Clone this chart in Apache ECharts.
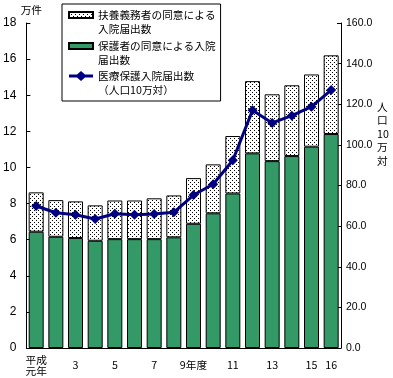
<!DOCTYPE html>
<html><head><meta charset="utf-8">
<script src="https://cdn.jsdelivr.net/npm/echarts@6/dist/echarts.min.js"></script>
<style>html,body{margin:0;padding:0;background:#fff}#c{width:393px;height:378px}</style>
</head><body><div id="c"></div>
<script>
const categories = ['平成\n元年','2','3','4','5','6','7','8','9年度','10','11','12','13','14','15','16'];
const shownLabels = [0,2,4,6,8,10,12,14,15];
const hogoshaValues = [6.44,6.16,6.09,5.94,6.03,6.03,6.03,6.13,6.88,7.46,8.56,10.78,10.35,10.63,11.15,11.85];
const totalValues = [8.62,8.19,8.12,7.90,8.17,8.17,8.29,8.45,9.41,10.17,11.74,14.78,14.05,14.55,15.15,16.21];
const fuyouValues = totalValues.map((t,i)=>+(t-hogoshaValues[i]).toFixed(2));
const rateValues = [69.9,66.6,65.6,63.5,66.1,65.6,66.0,66.8,75.3,80.6,92.4,117.0,110.8,114.4,118.8,127.0];
const leftTicks = [0,2,4,6,8,10,12,14,16,18];
const rightTicks = [0,20,40,60,80,100,120,140,160];

const nameFuyou = '扶養義務者の同意による\n入院届出数';
const nameHogo = '保護者の同意による入院\n届出数';
const nameRate = '医療保護入院届出数\n（人口10万対）';

const pc = document.createElement('canvas');
pc.width = 4; pc.height = 4;
const px = pc.getContext('2d');
px.fillStyle = '#fff'; px.fillRect(0,0,4,4);
px.fillStyle = '#000'; px.fillRect(0,0,1,1); px.fillRect(2,2,1,1);
const dotted = {image: pc, repeat: 'repeat'};

const FONT = 'Noto Sans CJK JP';
const rectIcon = 'path://M0,0M24,28M0,4h24v6h-24z';
const lineIcon = 'path://M0,0M24,28M0,5.5L8,5.5L12,2L16,5.5L24,5.5L24,8.5L16,8.5L12,12L8,8.5L0,8.5z';

const chart = echarts.init(document.getElementById('c'), null, {renderer:'canvas'});
chart.setOption({
  animation: false,
  textStyle: {fontFamily: FONT, color: '#000'},
  grid: {left: 26, right: 52, top: 23, bottom: 30},
  legend: {
    orient: 'vertical', left: 62, top: 4,
    padding: [3, 5, 4, 6],
    borderColor: '#000', borderWidth: 1, backgroundColor: '#fff',
    itemWidth: 24, itemHeight: 28, itemGap: 1,
    symbolKeepAspect: false,
    textStyle: {fontFamily: FONT, fontSize: 10.7, lineHeight: 14, color: '#000'},
    data: [
      {name: nameFuyou, icon: rectIcon},
      {name: nameHogo, icon: rectIcon},
      {name: nameRate, icon: lineIcon, itemStyle: {color: '#000080', borderWidth: 0}}
    ]
  },
  xAxis: {
    type: 'category', data: categories,
    axisLine: {lineStyle: {color: '#000', width: 1}},
    axisTick: {inside: true, length: 3, lineStyle: {color: '#000'}},
    axisLabel: {
      interval: (i) => shownLabels.includes(i),
      fontSize: 10.7, lineHeight: 11, color: '#000', fontFamily: FONT,
      verticalAlign: 'middle', margin: 17
    }
  },
  yAxis: [
    {
      type: 'value', min: 0, max: 18, interval: 2,
      name: '万件', nameLocation: 'end', nameGap: 8,
      nameTextStyle: {fontSize: 10.7, color: '#000', padding: [0,0,0,10], fontFamily: FONT},
      axisLine: {show: true, lineStyle: {color: '#000'}},
      axisTick: {show: true, inside: true, length: 4, lineStyle: {color: '#000'}},
      axisLabel: {fontSize: 12, color: '#000', margin: 10, fontFamily: 'Liberation Sans',
        formatter: (v) => leftTicks.includes(v) ? String(v) : ''},
      splitLine: {show: false}
    },
    {
      type: 'value', min: 0, max: 160, interval: 20, position: 'right',
      axisLine: {show: true, lineStyle: {color: '#000'}},
      axisTick: {show: true, inside: true, length: 4, lineStyle: {color: '#000'}},
      axisLabel: {fontSize: 10.5, color: '#000', margin: 5, fontFamily: 'Liberation Sans',
        formatter: (v) => rightTicks.includes(v) ? v.toFixed(1) : ''},
      splitLine: {show: false}
    }
  ],
  graphic: [{
    type: 'text', left: 377, top: 100,
    style: {text: '人\n口\n10\n万\n対', fontSize: 10.7, lineHeight: 13.5, align: 'center',
      fill: '#000', fontFamily: FONT}
  }],
  series: [
    {
      name: nameHogo, type: 'bar', stack: 's', data: hogoshaValues, barWidth: 15,
      itemStyle: {color: '#339966', borderColor: '#000', borderWidth: 1}
    },
    {
      name: nameFuyou, type: 'bar', stack: 's', data: fuyouValues, barWidth: 15,
      itemStyle: {color: dotted, borderColor: '#000', borderWidth: 1}
    },
    {
      name: nameRate, type: 'line', yAxisIndex: 1, data: rateValues,
      symbol: 'diamond', symbolSize: 10,
      lineStyle: {color: '#000080', width: 3},
      itemStyle: {color: '#000080'}, z: 5
    }
  ]
});
</script></body></html>
